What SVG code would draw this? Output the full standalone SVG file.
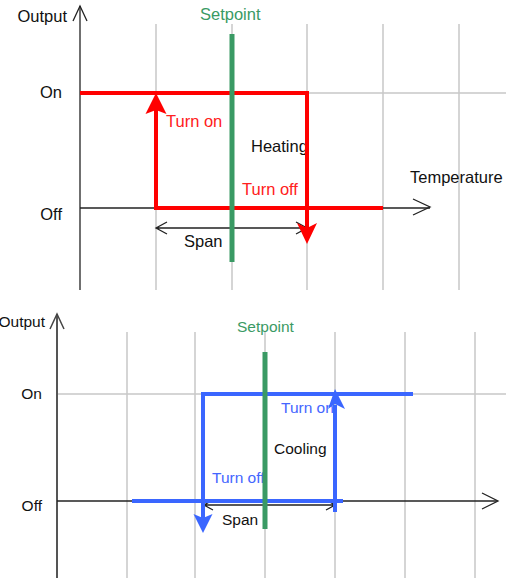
<svg xmlns="http://www.w3.org/2000/svg" width="506" height="578" viewBox="0 0 506 578">
<style>
.grid{stroke:#c8c8c8;stroke-width:1.5;fill:none}
.axis{stroke:#222;stroke-width:1.3;fill:none}
.open{stroke:#222;stroke-width:1.3;fill:none}
.red{stroke:#ff0000;stroke-width:4;fill:none}
.blue{stroke:#3a66ff;stroke-width:4;fill:none}
.sp{stroke:#3a9a64;stroke-width:5;fill:none}
text{font-family:"Liberation Sans",Arial,sans-serif}
.t1{font-size:16.5px;fill:#111}
.t2{font-size:15.5px;fill:#111}
.tr{fill:#ff2020}
.tb{fill:#4466ff}
.tg{fill:#3a9a64}
</style>
<rect width="506" height="578" fill="#fff"/>
<g id="heating">
  <g id="heating-grid">
    <path class="grid" d="M156 24V290M232 24V290M307 24V290M383 24V290M459 24V290M80 93H506"/>
  </g>
  <g id="heating-axes">
    <path class="axis" d="M80 6V290"/>
    <path class="axis" d="M73 21L80 6L87 21"/>
    <path class="axis" d="M80 208H430"/>
    <path class="axis" d="M413 199L430 207L413 215"/>
  </g>
  <g id="heating-labels">
    <text class="t1" x="67" y="22" text-anchor="end">Output</text>
    <text class="t1" x="62" y="98" text-anchor="end">On</text>
    <text class="t1" x="62" y="220" text-anchor="end">Off</text>
    <text class="t1" x="410" y="183">Temperature</text>
    <text class="t1 tg" x="200" y="20">Setpoint</text>
    <text class="t1" x="251" y="152">Heating</text>
    <text class="t1 tr" x="166" y="127">Turn on</text>
    <text class="t1 tr" x="242" y="195">Turn off</text>
    <text class="t1" x="184" y="247">Span</text>
  </g>
  <g id="heating-span">
    <path class="open" d="M156 228H307M167 222L156 228L167 234M296 222L307 228L296 234"/>
  </g>
  <g id="heating-curve">
    <path class="red" d="M80 93H307V230"/>
    <path class="red" d="M383 208H156V110"/>
    <polygon fill="#ff0000" points="156,93 145.5,114 156,110 166.5,114"/>
    <polygon fill="#ff0000" points="307,244 297,223 307,228 317,223"/>
  </g>
  <g id="heating-setpoint">
    <path class="sp" d="M232 34V262"/>
  </g>
</g>
<g id="cooling">
  <g id="cooling-grid">
    <path class="grid" d="M127 332V578M195 332V578M265 332V578M335 332V578M405 332V578M475 332V578M57 394H506"/>
  </g>
  <g id="cooling-axes">
    <path stroke="#555" stroke-width="2" fill="none" d="M57 314V578"/>
    <path stroke="#444" stroke-width="1.5" fill="none" d="M50 329L57 314L64 329"/>
    <path class="axis" d="M57 501H497"/>
    <path class="axis" d="M482 493L498 501L482 509"/>
  </g>
  <g id="cooling-labels">
    <text class="t2" x="45" y="327" text-anchor="end">Output</text>
    <text class="t2" x="42" y="399" text-anchor="end">On</text>
    <text class="t2" x="42" y="511" text-anchor="end">Off</text>
    <text class="t2 tg" x="237" y="332">Setpoint</text>
    <text class="t2" x="274" y="454">Cooling</text>
    <text class="t2 tb" x="281" y="413">Turn on</text>
    <text class="t2 tb" x="212" y="483">Turn off</text>
    <text class="t2" x="222" y="525">Span</text>
  </g>
  <g id="cooling-span">
    <path class="open" d="M203 505H335M213 500L204 505L213 510M326 500L335 505L326 510"/>
  </g>
  <g id="cooling-curve">
    <path class="blue" d="M413 394H203V518"/>
    <path class="blue" d="M132 501H343"/>
    <path class="blue" d="M335 512V405"/>
    <polygon fill="#3a66ff" points="203,533 193.5,514 203,518 212.5,514"/>
    <polygon fill="#3a66ff" points="335,389 328,409 335,404 345,409"/>
  </g>
  <g id="cooling-setpoint">
    <path class="sp" d="M265 352V529"/>
  </g>
</g>
</svg>
